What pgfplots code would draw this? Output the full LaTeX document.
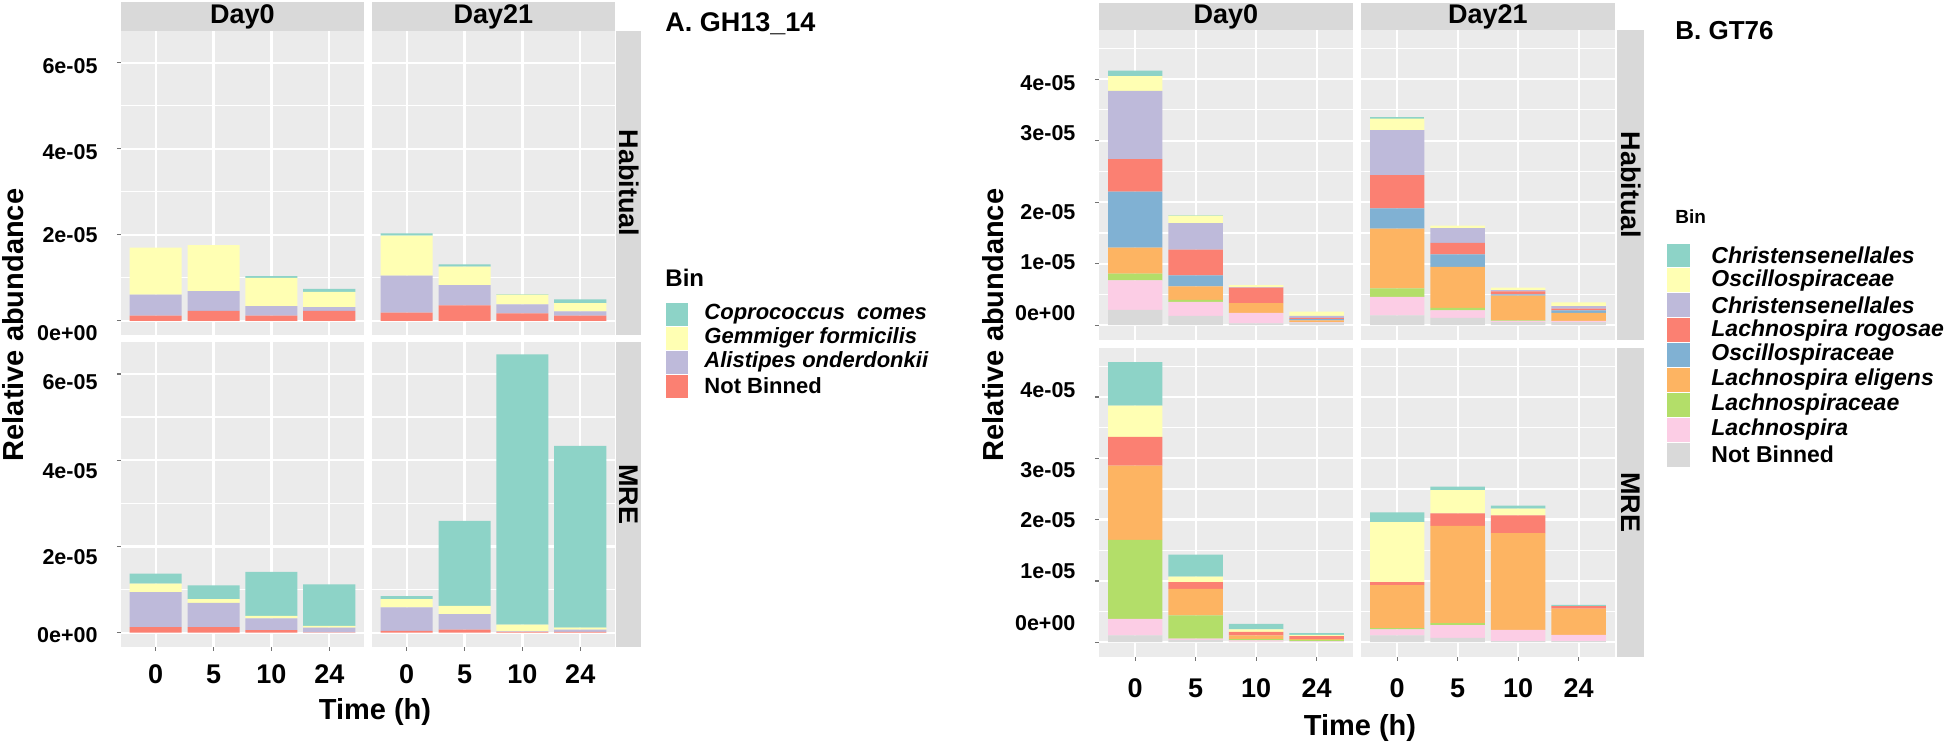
\documentclass[border=0pt]{standalone}
\usepackage{fontspec}
\setmainfont{Liberation Sans}
\usepackage{pgfplots}
\usepackage{pgfplotstable}
\pgfplotsset{compat=1.18}

% Set3 colours as in the ggplot figure
\definecolor{cTeal}{HTML}{8DD3C7}
\definecolor{cYel}{HTML}{FFFFB3}
\definecolor{cPur}{HTML}{BEBADA}
\definecolor{cRed}{HTML}{FB8072}
\definecolor{cBlu}{HTML}{80B1D3}
\definecolor{cOra}{HTML}{FDB462}
\definecolor{cGrn}{HTML}{B3DE69}
\definecolor{cPnk}{HTML}{FCCDE5}
\definecolor{cGry}{HTML}{D9D9D9}
\definecolor{panelbg}{HTML}{EBEBEB}
\definecolor{stripbg}{HTML}{D9D9D9}

\newcommand{\fsz}[1]{\fontsize{#1}{#1}\selectfont}
% tick label nudged up/down like in the source figure
\newcommand{\tl}[2]{\raisebox{#1}[6.2pt][0pt]{\textbf{#2}}}

% ---- A. GH13_14 (units of 1e-05), segments bottom to top
\pgfplotstableread{
t nb al ge co
1 0.12 0.49 1.09 0.00
2 0.23 0.46 1.07 0.00
3 0.12 0.22 0.66 0.04
4 0.23 0.09 0.35 0.07
}\AHabZ
\pgfplotstableread{
t nb al ge co
1 0.19 0.86 0.93 0.05
2 0.36 0.47 0.43 0.05
3 0.17 0.21 0.23 0.01
4 0.12 0.10 0.19 0.09
}\AHabT
\pgfplotstableread{
t nb al ge co
1 0.13 0.81 0.20 0.23
2 0.13 0.56 0.09 0.32
3 0.06 0.27 0.06 1.02
4 0.01 0.11 0.04 0.96
}\AMreZ
\pgfplotstableread{
t nb al ge co
1 0.04 0.55 0.19 0.07
2 0.07 0.36 0.19 1.97
3 0.02 0.01 0.16 6.26
4 0.02 0.05 0.05 4.21
}\AMreT

% ---- B. GT76
\pgfplotstableread{
t nb lp lc le ob lr cp oy ct
1 0.25 0.48 0.11 0.42 0.91 0.53 1.11 0.24 0.09
2 0.15 0.23 0.03 0.22 0.18 0.42 0.43 0.12 0.01
3 0.03 0.17 0.00 0.16 0.00 0.25 0.01 0.03 0.00
4 0.04 0.01 0.00 0.03 0.02 0.02 0.03 0.07 0.00
}\BHabZ
\pgfplotstableread{
t nb lp lc le ob lr cp oy ct
1 0.16 0.30 0.14 0.97 0.33 0.54 0.73 0.19 0.03
2 0.12 0.12 0.04 0.67 0.20 0.19 0.24 0.04 0.00
3 0.05 0.02 0.01 0.40 0.02 0.05 0.02 0.04 0.00
4 0.05 0.02 0.00 0.13 0.04 0.03 0.04 0.06 0.00
}\BHabT
\pgfplotstableread{
t nb lp lc le ob lr cp oy ct
1 0.11 0.27 1.29 1.21 0.00 0.47 0.00 0.51 0.71
2 0.04 0.02 0.38 0.43 0.00 0.11 0.00 0.09 0.36
3 0.01 0.02 0.02 0.06 0.00 0.06 0.00 0.04 0.09
4 0.01 0.01 0.02 0.01 0.00 0.05 0.00 0.02 0.03
}\BMreZ
\pgfplotstableread{
t nb lp lc le ob lr cp oy ct
1 0.11 0.10 0.02 0.70 0.00 0.05 0.00 0.98 0.16
2 0.07 0.21 0.03 1.59 0.00 0.20 0.00 0.38 0.06
3 0.02 0.18 0.00 1.58 0.00 0.29 0.00 0.11 0.05
4 0.02 0.10 0.00 0.43 0.00 0.04 0.00 0.00 0.02
}\BMreT

\newcommand{\stackA}[1]{%
  \addplot[fill=cRed]  table[x=t,y=nb]{#1};
  \addplot[fill=cPur]  table[x=t,y=al]{#1};
  \addplot[fill=cYel]  table[x=t,y=ge]{#1};
  \addplot[fill=cTeal] table[x=t,y=co]{#1};
}
\newcommand{\stackB}[1]{%
  \addplot[fill=cGry]  table[x=t,y=nb]{#1};
  \addplot[fill=cPnk]  table[x=t,y=lp]{#1};
  \addplot[fill=cGrn]  table[x=t,y=lc]{#1};
  \addplot[fill=cOra]  table[x=t,y=le]{#1};
  \addplot[fill=cBlu]  table[x=t,y=ob]{#1};
  \addplot[fill=cRed]  table[x=t,y=lr]{#1};
  \addplot[fill=cPur]  table[x=t,y=cp]{#1};
  \addplot[fill=cYel]  table[x=t,y=oy]{#1};
  \addplot[fill=cTeal] table[x=t,y=ct]{#1};
}

\pgfplotsset{
  facet/.style={
    scale only axis, anchor=south west,
    ybar stacked, bar width=0.9,
    xmin=0.4, xmax=4.6, xtick={1,2,3,4},
    axis background/.style={fill=panelbg},
    axis line style={draw=none},
    xmajorgrids, ymajorgrids, yminorgrids,
    major grid style={white, line width=0.9pt},
    minor grid style={white, line width=0.45pt},
    tick align=outside, major tick length=1.6pt, minor tick length=0pt,
    tick style={black!55, line width=0.5pt},
    xtick pos=bottom, ytick pos=left,
    every axis plot/.append style={draw=none},
    yticklabel style={font=\fsz{8.6}\bfseries, anchor=east, inner sep=0pt, xshift=-7.6pt},
    xticklabel style={font=\fsz{10.8}\bfseries, anchor=north, inner sep=0pt},
  },
  facetA/.style={ymin=-0.33, ymax=6.74, ytick={0,2,4,6}, minor ytick={1,3,5}},
  facetB/.style={ymin=-0.24, ymax=4.80, ytick={0,1,2,3,4}, minor ytick={0.5,1.5,2.5,3.5,4.5}},
  notx/.style={xticklabels={}, xtick style={draw=none}},
  noty/.style={yticklabels={}, ytick style={draw=none}},
  ylabAh/.style={yticklabels={\tl{-4.8pt}{0e+00},\tl{0pt}{2e-05},\tl{-1.2pt}{4e-05},\tl{-1.2pt}{6e-05}}},
  ylabAm/.style={yticklabels={\tl{-0.8pt}{0e+00},\tl{-4pt}{2e-05},\tl{-4.4pt}{4e-05},\tl{-3.2pt}{6e-05}}},
  ylabBh/.style={yticklabels={\tl{4.8pt}{0e+00},\tl{0.8pt}{1e-05},\tl{-4pt}{2e-05},\tl{3.2pt}{3e-05},\tl{-1.6pt}{4e-05}}},
  ylabBm/.style={yticklabels={\tl{7.6pt}{0e+00},\tl{4pt}{1e-05},\tl{0pt}{2e-05},\tl{-4.4pt}{3e-05},\tl{2.8pt}{4e-05}}},
  xlab/.style={xticklabels={\textbf{0},\textbf{5},\textbf{10},\textbf{24}}},
}

\begin{document}
\begin{tikzpicture}
% ===== panel A =====
\begin{axis}[facet, facetA, notx, ylabAh, at={(48.4pt,164.8pt)}, width=97.2pt, height=121.6pt]
\stackA{\AHabZ}
\end{axis}
\begin{axis}[facet, facetA, notx, noty, at={(148.8pt,164.8pt)}, width=97.2pt, height=121.6pt]
\stackA{\AHabT}
\end{axis}
\begin{axis}[facet, facetA, xlab, ylabAm, xticklabel style={yshift=-5.2pt}, at={(48.4pt,40pt)}, width=97.2pt, height=122pt]
\stackA{\AMreZ}
\end{axis}
\begin{axis}[facet, facetA, xlab, noty, xticklabel style={yshift=-5.2pt}, at={(148.8pt,40pt)}, width=97.2pt, height=122pt]
\stackA{\AMreT}
\end{axis}

% ===== panel B =====
\begin{axis}[facet, facetB, notx, ylabBh, at={(439.6pt,162.8pt)}, width=101.6pt, height=124pt]
\stackB{\BHabZ}
\end{axis}
\begin{axis}[facet, facetB, notx, noty, at={(544.4pt,162.8pt)}, width=101.6pt, height=124pt]
\stackB{\BHabT}
\end{axis}
\begin{axis}[facet, facetB, xlab, ylabBm, xticklabel style={yshift=-6.8pt}, at={(439.6pt,36pt)}, width=101.6pt, height=123.6pt]
\stackB{\BMreZ}
\end{axis}
\begin{axis}[facet, facetB, xlab, noty, xticklabel style={yshift=-6.8pt}, at={(544.4pt,36pt)}, width=101.6pt, height=123.6pt]
\stackB{\BMreT}
\end{axis}

% ===== facet strips =====
\begin{scope}[every node/.style={font=\fsz{10.8}\bfseries, inner sep=0pt}]
\fill[stripbg] (48.4pt,286.4pt) rectangle (145.6pt,298.0pt);
\node at (97pt,292.2pt) {Day0};
\fill[stripbg] (148.8pt,286.4pt) rectangle (246.0pt,298.0pt);
\node at (197.4pt,292.2pt) {Day21};
\fill[stripbg] (246.4pt,164.8pt) rectangle (256.6pt,286.4pt);
\node[rotate=-90] at (251.5pt,225.6pt) {Habitual};
\fill[stripbg] (246.4pt,40pt) rectangle (256.6pt,162pt);
\node[rotate=-90] at (251.5pt,101pt) {MRE};

\fill[stripbg] (439.6pt,286.8pt) rectangle (541.2pt,297.6pt);
\node at (490.4pt,292.2pt) {Day0};
\fill[stripbg] (544.4pt,286.8pt) rectangle (646.0pt,297.6pt);
\node at (595.2pt,292.2pt) {Day21};
\fill[stripbg] (646.8pt,162.8pt) rectangle (657.8pt,286.8pt);
\node[rotate=-90] at (652.3pt,224.8pt) {Habitual};
\fill[stripbg] (646.8pt,36pt) rectangle (657.8pt,159.6pt);
\node[rotate=-90] at (652.3pt,97.8pt) {MRE};
\end{scope}

% ===== axis titles =====
\begin{scope}[every node/.style={font=\fsz{11.6}\bfseries, inner sep=0pt}]
\node at (150pt,14pt) {Time (h)};
\node at (544pt,7.6pt) {Time (h)};
\node[rotate=90] at (5.2pt,168.8pt) {Relative abundance};
\node[rotate=90] at (397.2pt,168.8pt) {Relative abundance};
\end{scope}

% ===== titles and legends =====
\node[anchor=west, inner sep=0pt, font=\fsz{10.8}\bfseries] at (266pt,289.2pt) {A. GH13\_14};
\node[anchor=west, inner sep=0pt, font=\fsz{10.4}\bfseries] at (670pt,286.6pt) {B. GT76};

\node[anchor=west, inner sep=0pt, font=\fsz{9.6}\bfseries] at (266pt,187.6pt) {Bin};
\foreach \c/\lab [count=\i from 0] in {cTeal/{\itshape Coprococcus\ \ comes}, cYel/{\itshape Gemmiger formicilis}, cPur/{\itshape Alistipes onderdonkii}, cRed/{Not Binned}}{
  \fill[\c, draw=white, line width=0.3pt] (266pt,{(178-9.6*\i)*1pt}) rectangle (275.2pt,{(168.4-9.6*\i)*1pt});
  \node[anchor=west, inner sep=0pt, font=\fsz{8.8}\bfseries] at (281.6pt,{(173.2-9.6*\i)*1pt}) {\lab};
}

\node[anchor=west, inner sep=0pt, font=\fsz{7.6}\bfseries] at (670pt,212pt) {Bin};
\foreach \c/\lab [count=\i from 0] in {cTeal/{\itshape Christensenellales}, cYel/{\itshape Oscillospiraceae}, cPur/{\itshape Christensenellales}, cRed/{\itshape Lachnospira rogosae}, cBlu/{\itshape Oscillospiraceae}, cOra/{\itshape Lachnospira eligens}, cGrn/{\itshape Lachnospiraceae}, cPnk/{\itshape Lachnospira}, cGry/{Not Binned}}{
  \fill[\c, draw=white, line width=0.3pt] (666.4pt,{(201.6-9.96*\i)*1pt}) rectangle (676pt,{(191.64-9.96*\i)*1pt});
  \node[anchor=west, inner sep=0pt, font=\fsz{9.2}\bfseries] at (684.4pt,{(196.62-9.96*\i)*1pt}) {\lab};
}

\useasboundingbox (0pt,0pt) rectangle (777.6pt,298.8pt);
\end{tikzpicture}
\end{document}
